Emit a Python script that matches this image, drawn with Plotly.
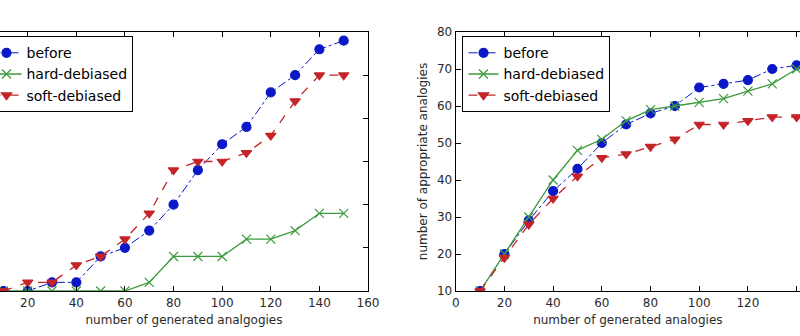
import plotly.graph_objects as go

x_vals = [10, 20, 30, 40, 50, 60, 70, 80, 90, 100, 110, 120, 130, 140, 150]

# left panel (stereotypic analogies)
left_before = [0, 0, 1, 1, 4, 5, 7, 10, 14, 17, 19, 23, 25, 28, 29]
left_hard = [0, 0, 0, 0, 0, 0, 1, 4, 4, 4, 6, 6, 7, 9, 9]
left_soft = [0, 1, 1, 3, 4, 6, 9, 14, 15, 15, 16, 18, 22, 25, 25]

# right panel (appropriate analogies)
right_before = [10, 20, 29, 37, 43, 50, 55, 58, 60, 65, 66, 67, 70, 71, 72]
right_hard = [10, 20, 30, 40, 48, 51, 56, 59, 60, 61, 62, 64, 66, 70, 71]
right_soft = [10, 19, 28, 35, 41, 46, 47, 49, 51, 55, 55, 56, 57, 57, 58]

series_names = ["before", "hard-debiased", "soft-debiased"]
left_xtitle = "number of generated analgogies"
right_xtitle = "number of generated analogies"
right_ytitle = "number of appropriate analogies"

BLUE = "#0a18c8"
GREEN = "#3c9a3c"
RED = "#c42428"
FONT = "DejaVu Sans"
TXT = "#2a2a2a"

W, H = 800, 336
plot_top, plot_bot = 32, 291
plot_h = plot_bot - plot_top
left_r = 368
right_l = 455.7

fig = go.Figure()

styles = [
    dict(color=BLUE, dash="dashdot", symbol="circle", size=9, lw=1),
    dict(color=GREEN, dash="solid", symbol="x-thin", size=9, lw=1.3),
    dict(color=RED, dash="dash", symbol="triangle-down", size=9, lw=1.3),
]

for ys, name, st in zip([left_before, left_hard, left_soft], series_names, styles):
    fig.add_trace(go.Scatter(
        x=x_vals, y=ys, name=name, mode="lines+markers",
        line=dict(color=st["color"], dash=st["dash"], width=st["lw"]),
        marker=dict(symbol=st["symbol"], size=st["size"], color=st["color"],
                    line=dict(color=st["color"], width=1.2)),
        xaxis="x", yaxis="y", legend="legend", cliponaxis=True))

for ys, name, st in zip([right_before, right_hard, right_soft], series_names, styles):
    fig.add_trace(go.Scatter(
        x=x_vals, y=ys, name=name, mode="lines+markers",
        line=dict(color=st["color"], dash=st["dash"], width=st["lw"]),
        marker=dict(symbol=st["symbol"], size=st["size"], color=st["color"],
                    line=dict(color=st["color"], width=1.2)),
        xaxis="x2", yaxis="y2", legend="legend2", cliponaxis=True))

px_per_unit_l = (left_r - 27.7) / 140.0
left_xmin = 20 - 27.7 / px_per_unit_l
px_per_unit_r = 48.7 / 20.0
right_xmax = (W - right_l) / px_per_unit_r

axis_common = dict(showline=True, linecolor="black", linewidth=1.2,
                   ticks="inside", ticklen=5, tickcolor="black",
                   showgrid=False, zeroline=False,
                   tickfont=dict(family=FONT, size=12, color=TXT))

legend_y = 1 - (36.0 - plot_top) / plot_h

fig.update_layout(
    width=W, height=H,
    margin=dict(l=0, r=0, t=plot_top, b=H - plot_bot, autoexpand=False),
    paper_bgcolor="white", plot_bgcolor="white",
    showlegend=True,
    xaxis=dict(domain=[0, left_r / W], range=[left_xmin, 160], dtick=20, tick0=0,
               mirror="ticks", anchor="y",
               title=dict(text=left_xtitle, font=dict(family=FONT, size=12, color=TXT), standoff=7),
               **axis_common),
    yaxis=dict(range=[0, 30], dtick=5, side="right", showticklabels=False,
               mirror=False, anchor="x", **axis_common),
    xaxis2=dict(domain=[right_l / W, 1], range=[0, right_xmax], dtick=20, tick0=0,
                mirror="ticks", anchor="y2",
                title=dict(text=right_xtitle, font=dict(family=FONT, size=12, color=TXT), standoff=7),
                **axis_common),
    yaxis2=dict(range=[10, 80], dtick=10, side="left", mirror=False, anchor="x2",
                title=dict(text=right_ytitle, font=dict(family=FONT, size=12, color=TXT), standoff=6),
                **axis_common),
    legend=dict(x=-14.7 / W, y=legend_y, xanchor="left", yanchor="top",
                bgcolor="white", bordercolor="black", borderwidth=1.2,
                font=dict(family=FONT, size=14, color="black"), tracegroupgap=0),
    legend2=dict(x=462.3 / W, y=legend_y, xanchor="left", yanchor="top",
                 bgcolor="white", bordercolor="black", borderwidth=1.2,
                 font=dict(family=FONT, size=14, color="black"), tracegroupgap=0),
)

fig.write_html("out.html")
